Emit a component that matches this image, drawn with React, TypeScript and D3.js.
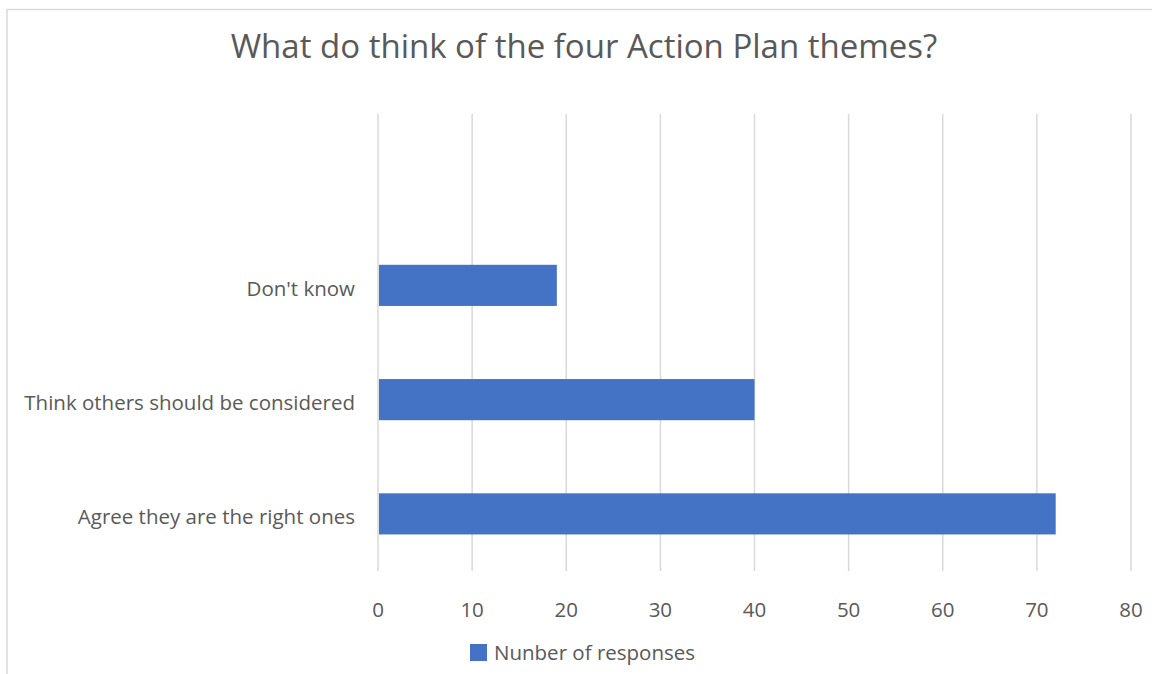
import React from "react";
import * as d3 from "d3";

const categories = ["", "Don't know", "Think others should be considered", "Agree they are the right ones"];
const values = [0, 19, 40, 72];
const xTicks = [0, 10, 20, 30, 40, 50, 60, 70, 80];
const title = "What do think of the four Action Plan themes?";
const seriesName = "Nunber of responses";

const W = 1152;
const H = 674;
const FONT = "'Open Sans', 'Noto Sans', sans-serif";

export default function App() {
  const x = d3.scaleLinear().domain([0, 80]).range([378, 1131]);
  const y = d3.scaleBand<string>().domain(categories.map((c, i) => String(i))).range([114, 571]).paddingInner(0.64).paddingOuter(0.32);
  const [y0, y1] = [114, 571];
  return (
    <svg width={W} height={H} style={{ position: "absolute", left: 0, top: 0, background: "#fff" }} fontFamily={FONT}>
      <rect x={7} y={9.5} width={W + 20} height={H + 20} fill="#fff" stroke="#d9d9d9" strokeWidth={1.5} />
      <text x={584} y={58} textAnchor="middle" fontSize={33} fill="#595959">{title}</text>
      {xTicks.map((t) => (
        <g key={t}>
          <line x1={x(t)} x2={x(t)} y1={y0} y2={y1} stroke="#d9d9d9" strokeWidth={1.5} />
          <text x={x(t)} y={617} textAnchor="middle" fontSize={20.5} fill="#595959">{t}</text>
        </g>
      ))}
      {categories.map((c, i) => {
        const yy = y(String(i))!;
        return (
          <g key={i}>
            {values[i] > 0 && (
              <rect x={x(0) + 1} y={yy} width={x(values[i]) - x(0) - 1} height={y.bandwidth()} fill="#4472c4" />
            )}
            <text x={355} y={yy + y.bandwidth() / 2 + 10.5} textAnchor="end" fontSize={20.5} fill="#595959">{c}</text>
          </g>
        );
      })}
      <rect x={470} y={644} width={17} height={17} fill="#4472c4" />
      <text x={494} y={660} fontSize={20.5} fill="#595959">{seriesName}</text>
    </svg>
  );
}
